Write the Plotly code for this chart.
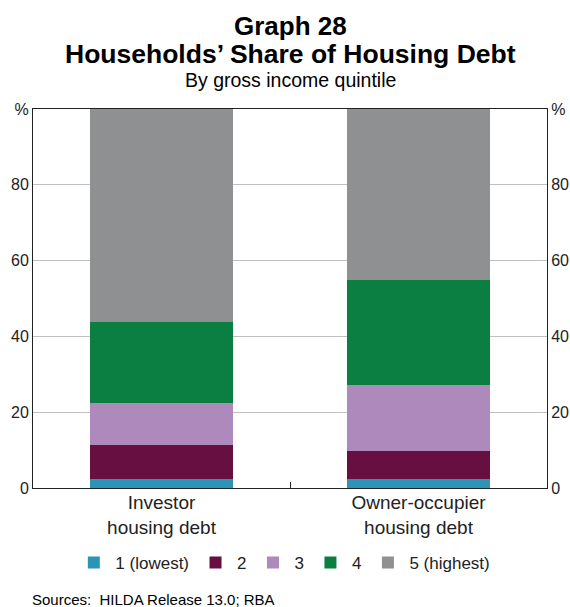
import plotly.graph_objects as go

categories = ["Investor<br>housing debt", "Owner-occupier<br>housing debt"]
series_names = ["1 (lowest)", "2", "3", "4", "5 (highest)"]
q1 = [2.4, 2.3]
q2 = [8.9, 7.5]
q3 = [11.0, 17.4]
q4 = [21.4, 27.7]
q5 = [56.3, 45.1]
colors = ["#2b95b5", "#660f40", "#ae89bb", "#0b7f42", "#8f9092"]
tick_vals = [0, 20, 40, 60, 80, 100]
tick_text = ["0", "20", "40", "60", "80", "%"]

font = "Liberation Sans, Arial, sans-serif"
fig = go.Figure()
for name, vals, c in zip(series_names, [q1, q2, q3, q4, q5], colors):
    fig.add_trace(go.Bar(x=categories, y=vals, name=name, marker=dict(color=c, line=dict(width=0)),
                         width=0.56))
# invisible trace for right axis
fig.add_trace(go.Scatter(x=categories, y=[0, 0], yaxis="y2", mode="markers",
                         marker=dict(opacity=0), showlegend=False, hoverinfo="skip"))

fig.update_layout(
    template="none",
    barmode="stack",
    width=570, height=607,
    margin=dict(l=33, r=23, t=109, b=119, autoexpand=False),
    paper_bgcolor="white", plot_bgcolor="white",
    font=dict(family=font, size=16, color="#222"),
    showlegend=True,
    legend=dict(orientation="h", x=0.488, xanchor="center", y=-0.198, yanchor="middle",
                font=dict(size=17), traceorder="normal", itemwidth=33),
    xaxis=dict(range=[-0.5, 1.5], showline=True, linecolor="#222", linewidth=1, mirror=True,
               ticks="inside", tickson="boundaries", ticklen=6, tickcolor="#222",
               tickfont=dict(size=19), showgrid=False, automargin=False,
               ticklabelstandoff=-3),
    yaxis=dict(range=[0, 100], tickvals=tick_vals, ticktext=tick_text, showgrid=True,
               gridcolor="#c0c0c0", gridwidth=1, showline=True, linecolor="#222", linewidth=1,
               ticks="", tickfont=dict(size=16), zeroline=False, automargin=False),
    yaxis2=dict(range=[0, 100], tickvals=tick_vals, ticktext=tick_text, overlaying="y",
                side="right", showgrid=False, ticks="", tickfont=dict(size=16),
                showline=True, linecolor="#222", zeroline=False, automargin=False),
)
fig.add_annotation(text="<b>Graph 28</b>", xref="paper", yref="paper", x=0.5, y=1.0,
                   yshift=83, showarrow=False, font=dict(size=26, color="#000"), yanchor="middle")
fig.add_annotation(text="<b>Households’ Share of Housing Debt</b>", xref="paper", yref="paper",
                   x=0.5, y=1.0, yshift=55, showarrow=False, font=dict(size=26.5, color="#000"),
                   yanchor="middle")
fig.add_annotation(text="By gross income quintile", xref="paper", yref="paper",
                   x=0.5, y=1.0, yshift=29, showarrow=False, font=dict(size=19.5, color="#000"),
                   yanchor="middle")
fig.add_annotation(text="Sources:  HILDA Release 13.0; RBA", xref="paper", yref="paper",
                   x=0, xshift=-3, xanchor="left", y=0, yshift=-111, showarrow=False,
                   font=dict(size=15, color="#000"), yanchor="middle")
fig.write_html("out.html", config={"displayModeBar": False},
               post_script="document.body.style.margin='0';document.body.style.overflow='hidden';")
